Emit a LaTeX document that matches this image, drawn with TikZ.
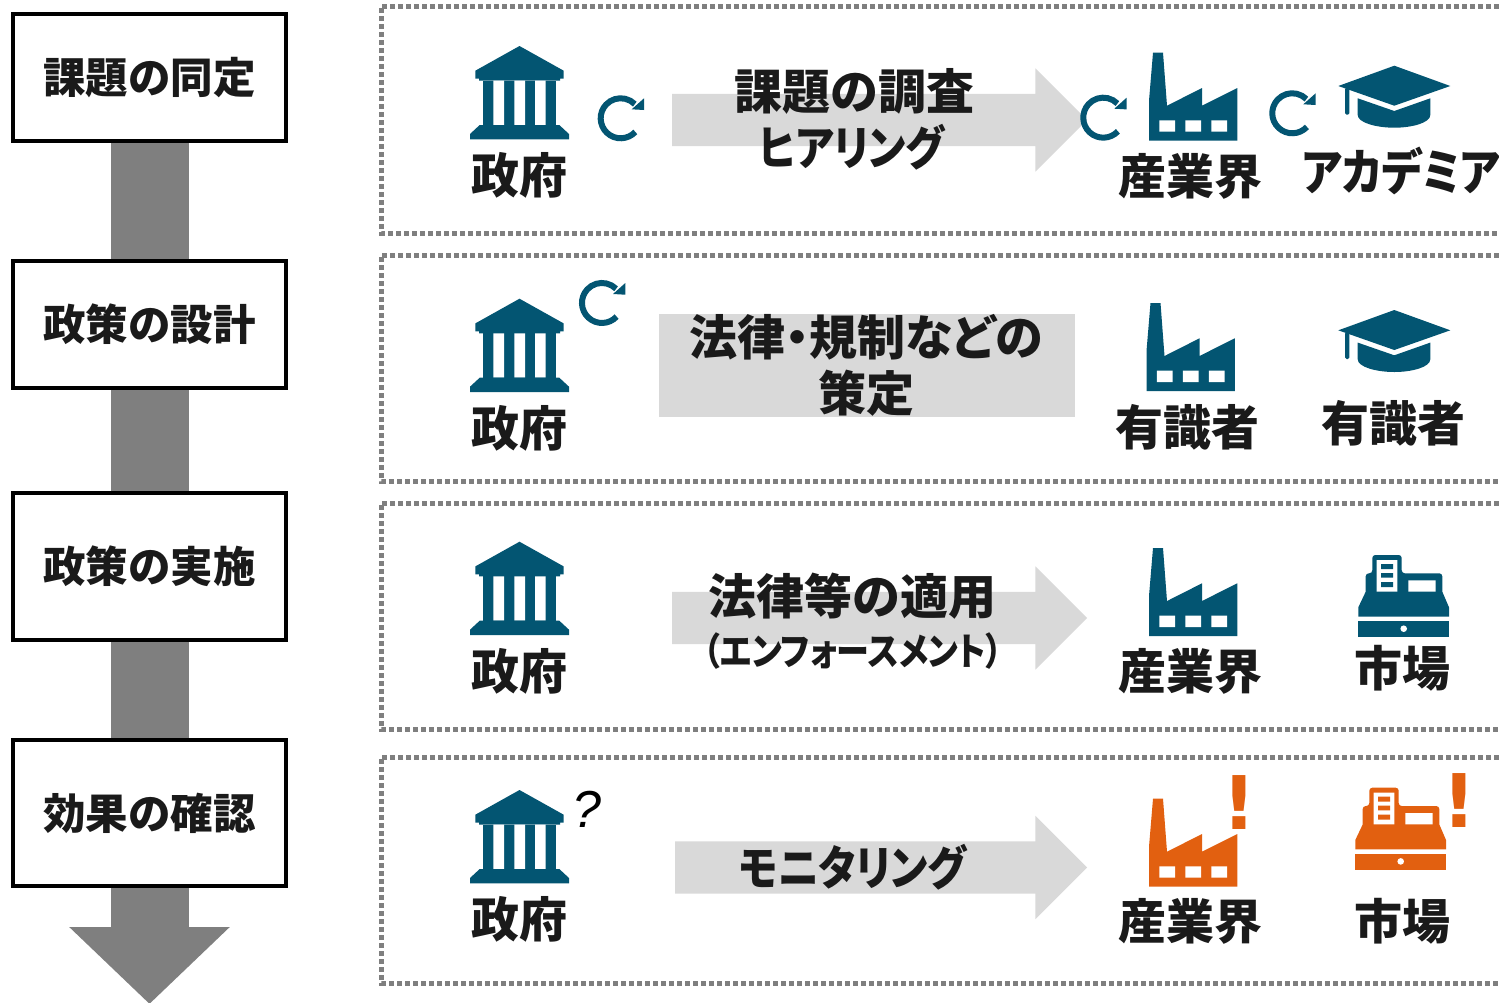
\documentclass[tikz,border=0pt]{standalone}
\usepackage{fontspec}
\setmainfont{Noto Sans CJK JP}
\newfontfamily\paltfont[RawFeature=+palt]{Noto Sans CJK JP}
\newfontfamily\katafont[RawFeature=+palt,FakeStretch=0.87]{Noto Sans CJK JP}
\newfontfamily\markfont{DejaVu Sans}
\newfontfamily\askfont{Liberation Sans}
\usepackage{tikz}
\usetikzlibrary{arrows.meta,shapes.arrows}

\definecolor{icon}{RGB}{3,85,114}
\definecolor{alert}{RGB}{226,96,16}
\definecolor{ink}{RGB}{26,26,26}

\begin{document}
\begin{tikzpicture}[
  x=1pt, y=-1pt,
  stagebox/.style={draw=black, line width=4pt, fill=white, minimum width=273pt, inner sep=0pt,
    font=\bfseries\fontsize{42.5}{48}\selectfont, text=ink},
  flowbar/.style={line width=78pt, xshift=-0.5pt, draw={rgb,255:red,127;green,127;blue,127}},
  groupline/.style={draw={rgb,255:red,127;green,127;blue,127}, line width=5pt, dash pattern=on 5pt off 3pt},
  actor/.style={inner sep=0pt, text=ink, font=\bfseries\fontsize{48}{56}\selectfont, text height=41pt, text depth=6pt},
  kata/.style={inner sep=0pt, text=ink, font=\katafont\bfseries\fontsize{47}{56}\selectfont, text height=41pt, text depth=6pt},
  blockarrow/.style={single arrow, fill=black!15, inner sep=0pt, text height=26pt, text depth=26pt, minimum width=102pt,
    single arrow head extend=25.5pt, single arrow head indent=0pt},
  pics/bank/.style={code={
    \fill[#1] (0,-93.3) -- (44.2,-68.6) -- (44.2,-60.6) -- (40.5,-60.6) -- (40.5,-58.6) -- (-40.5,-58.6)
      -- (-40.5,-60.6) -- (-44.2,-60.6) -- (-44.2,-68.6) -- cycle;
    \fill[#1] (-36.2,-58.6) rectangle (36.5,-14.3);
    \fill[white] (-26.2,-58.6) rectangle (-15.5,-14.3) (-5.2,-58.6) rectangle (5.5,-14.3) (15.5,-58.6) rectangle (26.2,-14.3);
    \fill[#1] (39.8,-14.3) -- (49.5,-5.3) -- (49.5,0) -- (-49.5,0) -- (-49.5,-5.3) -- (-39.8,-14.3) -- cycle;
  }},
  pics/factory/.style={code={
    \fill[#1] (0,0) -- (88.3,0) -- (88.3,-52.7) -- (53,-35) -- (53,-52.7) -- (18,-35) -- (14,-88) -- (4,-88) -- (0,-40) -- cycle;
    \fill[white] (10.3,-20.4) rectangle (26,-9) (36.3,-20.4) rectangle (52,-9) (62.3,-20.4) rectangle (78,-9);
  }},
  pics/gradcap/.style={code={
    \fill[#1] (0,0) -- (56,20.3) -- (0,40) -- (-56,20.3) -- cycle;
    \fill[#1, rounded corners=1.5pt] (-49.3,22) rectangle (-45,49);
    \fill[#1] (-36.6,32.6) -- (0,45.3) -- (36,32.6) -- (36,49.3) .. controls (36,57) and (18,62) .. (0,62)
      .. controls (-18,62) and (-36.6,57) .. (-36.6,49.3) -- cycle;
  }},
  pics/register/.style={code={
    \fill[#1] (-45.4,-16) rectangle (45.3,0);
    \fill[white] (0,-8.3) circle (3.3pt);
    \fill[#1] (-45.4,-20.3) -- (-45.4,-29.7) -- (-38,-45.3) [rounded corners=3pt] -- (-38,-63.7) -- (-31.4,-63.7) -- (-31.4,-82)
      -- (-2,-82) -- (-2,-63.7) -- (38.6,-63.7) [sharp corners] -- (38.6,-45.3) -- (45.3,-29.7) -- (45.3,-20.3) -- cycle;
    \fill[white] (-27,-77) rectangle (-6.4,-45.3) (4.6,-56.7) rectangle (32,-45.3);
    \fill[#1] (-22.7,-73) rectangle (-10.7,-68) (-22.7,-64) rectangle (-10.7,-59.3) (-22.7,-55) rectangle (-10.7,-50);
  }},
  pics/cycle/.style={code={
    \draw[icon, line width=6pt] (14.6,13.6) arc (-43:-315:20pt);
    \fill[icon] (23.3,-20) -- (23.3,-8.3) -- (11,-9) -- cycle;
  }}]
    \useasboundingbox (0,0) rectangle (1499,1002);
    % Stages on the left
    \coordinate (flowend) at (149.5,1004);
    \node[stagebox, minimum height=127pt] (issue) at (149.5,77.5) {課題の同定};
    \node[stagebox, minimum height=127pt] (design) at (149.5,324.5) {政策の設計};
    \node[stagebox, minimum height=147pt] (enforce) at (149.5,566.5) {政策の実施};
    \node[stagebox, minimum height=146pt] (verify) at (149.5,813) {効果の確認};
    \draw[flowbar] (issue.south) -- (design.north);
    \draw[flowbar] (design.south) -- (enforce.north);
    \draw[flowbar] (enforce.south) -- (verify.north);
    \draw[flowbar, -{Triangle[length=77pt,width=156pt]}] (verify.south) -- (flowend);
    % Dotted groups, open at the right edge
    \foreach \top/\bottom in {6/233, 255/481, 503/729, 757/983}
      \draw[groupline] (1499,\top) -- (381,\top) -- (381,\bottom) -- (1499,\bottom);
    % First row
    \node[blockarrow, minimum height=415pt] (survey) at (866.5,120) {};
    \pic at (519.5,139.3) {bank=icon};
    \pic at (620.7,118.3) {cycle};
    \pic at (1103.3,117.7) {cycle};
    \pic at (1292.3,113.3) {cycle};
    \pic at (1149,140.7) {factory=icon};
    \pic at (1394.3,65.7) {gradcap=icon};
    \node[actor] (gov1) at (519,176) {政府};
    \node[actor] (survey1) at (854,92) {課題の調査};
    \node[kata] (survey2) at (852,148) {ヒアリング};
    \node[actor] (ind1) at (1190,177) {産業界};
    \node[kata, font=\katafont\bfseries\fontsize{49.5}{56}\selectfont] (acad1) at (1401,173) {アカデミア};
    % Second row
    \fill[black!15] (659,314) rectangle (1075,417);
    \pic at (519.5,392) {bank=icon};
    \pic at (602,303) {cycle};
    \pic at (1146.5,391) {factory=icon};
    \pic at (1394.3,310) {gradcap=icon};
    \node[actor] (gov2) at (519,429) {政府};
    \node[actor, font=\paltfont\bfseries\fontsize{48}{56}\selectfont] (law1) at (866,338) {法律・規制などの};
    \node[actor] (law2) at (866,394) {策定};
    \node[actor] (exp1) at (1187,428) {有識者};
    \node[actor] (exp2) at (1393,424) {有識者};
    % Third row
    \node[blockarrow, minimum height=415pt] (apply) at (866.5,618) {};
    \pic at (519.5,635) {bank=icon};
    \pic at (1149,636) {factory=icon};
    \pic at (1403.7,637) {register=icon};
    \node[actor] (gov3) at (519,672) {政府};
    \node[actor] (apply1) at (852,597) {法律等の適用};
    \node[kata, font=\katafont\bfseries\fontsize{38}{46}\selectfont] (apply2) at (853,648) {（エンフォースメント）};
    \node[actor] (ind3) at (1190,672) {産業界};
    \node[actor] (mkt3) at (1402,669) {市場};
    % Fourth row
    \node[blockarrow, minimum height=412pt] (watch) at (868,867.5) {};
    \pic at (519.5,883.3) {bank=icon};
    \pic at (1149,886.7) {factory=alert};
    \pic at (1400.7,869.7) {register=alert};
    \node[inner sep=0pt, font=\askfont\itshape\fontsize{52}{60}\selectfont] (ask) at (587,809) {?};
    \node[inner sep=0pt, text=alert, font=\markfont\bfseries\fontsize{74}{90}\selectfont] (alarm1) at (1239.5,803) {!};
    \node[inner sep=0pt, text=alert, font=\markfont\bfseries\fontsize{74}{90}\selectfont] (alarm2) at (1459.5,801) {!};
    \node[actor] (gov4) at (519,920) {政府};
    \node[kata] (watch1) at (853,868) {モニタリング};
    \node[actor] (ind4) at (1190,922) {産業界};
    \node[actor] (mkt4) at (1402,922) {市場};
\end{tikzpicture}
\end{document}
